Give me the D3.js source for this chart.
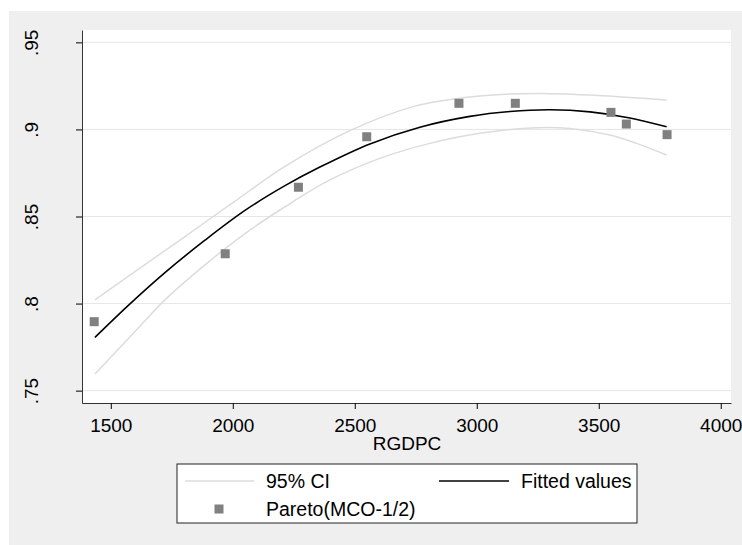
<!DOCTYPE html>
<html>
<head>
<meta charset="utf-8">
<script src="https://cdn.jsdelivr.net/npm/d3@7"></script>
<style>
  body { margin: 0; background: #fff; }
  svg text { font-family: "Liberation Sans", Arial, sans-serif; fill: #000; }
</style>
</head>
<body>
<script>
// scatter points (RGDPC, Pareto)
const pointX = [1432, 1969, 2269, 2549, 2927, 3158, 3550, 3613, 3780];
const pointY = [0.7896, 0.8286, 0.8668, 0.8958, 0.915, 0.915, 0.9098, 0.9031, 0.897];

// fitted values
const fitX = [1435, 1572, 1722, 1886, 2050, 2214, 2357, 2562, 2767, 2972, 3136, 3300, 3464, 3628, 3778];
const fitY = [0.7806, 0.7990, 0.8178, 0.8364, 0.8535, 0.8677, 0.8784, 0.8917, 0.9013, 0.9075, 0.9103, 0.9113, 0.9101, 0.9066, 0.9015];

// 95% CI bounds
const ciHiX = [1435, 1599, 1804, 2009, 2214, 2480, 2740, 3000, 3245, 3519, 3778];
const ciHiY = [0.8021, 0.8183, 0.8385, 0.8588, 0.8788, 0.8993, 0.9131, 0.9190, 0.9207, 0.9194, 0.9169];
const ciLoX = [1435, 1599, 1722, 1886, 2050, 2214, 2398, 2603, 2808, 3013, 3245, 3382, 3546, 3655, 3778];
const ciLoY = [0.7596, 0.7839, 0.8021, 0.8222, 0.8402, 0.8556, 0.8710, 0.8834, 0.8920, 0.8978, 0.9010, 0.9006, 0.8968, 0.8920, 0.8853];

const xTicks = [1500, 2000, 2500, 3000, 3500, 4000];
const yTicks = [0.75, 0.8, 0.85, 0.9, 0.95];
const yTickLabels = [".75", ".8", ".85", ".9", ".95"];

const W = 742, H = 545;
const svg = d3.select("body").append("svg").attr("width", W).attr("height", H);

// outer gray region
svg.append("rect").attr("x", 9).attr("y", 11).attr("width", W - 9).attr("height", H - 11).attr("fill", "#efefef");

const plot = { left: 82, right: 731, top: 30, bottom: 403 };
svg.append("rect")
  .attr("x", plot.left).attr("y", plot.top)
  .attr("width", plot.right - plot.left).attr("height", plot.bottom - plot.top)
  .attr("fill", "#fff");

const x = d3.scaleLinear().domain([1382, 4042]).range([plot.left, plot.right]);
const y = d3.scaleLinear().domain([0.7429, 0.9571]).range([plot.bottom, plot.top]);

// grid
svg.append("g").selectAll("line").data(yTicks).enter().append("line")
  .attr("x1", plot.left).attr("x2", plot.right)
  .attr("y1", d => y(d)).attr("y2", d => y(d))
  .attr("stroke", "#e6e6e6").attr("stroke-width", 1);

// axes
const yAxis = d3.axisLeft(y).tickValues(yTicks).tickSize(6).tickSizeOuter(0)
  .tickFormat((d, i) => yTickLabels[i]);
const gy = svg.append("g").attr("transform", "translate(" + plot.left + ",0)").call(yAxis);
gy.select(".domain").attr("stroke", "#333");
gy.selectAll(".tick line").attr("stroke", "#000");
// vertical labels, reading upward
gy.selectAll(".tick text")
  .attr("font-size", 19)
  .attr("text-anchor", "middle")
  .attr("transform", "rotate(-90)")
  .attr("x", 0)
  .attr("y", -44)
  .attr("dy", 0);

const xAxis = d3.axisBottom(x).tickValues(xTicks).tickSize(6).tickSizeOuter(0).tickFormat(d3.format("d"));
const gx = svg.append("g").attr("transform", "translate(0," + plot.bottom + ")").call(xAxis);
gx.select(".domain").attr("stroke", "#333");
gx.selectAll(".tick line").attr("stroke", "#000");
gx.selectAll(".tick text").attr("font-size", 19).attr("y", 29).attr("dy", 0);

svg.append("text").attr("x", 407).attr("y", 450).attr("text-anchor", "middle")
  .attr("font-size", 19).text("RGDPC");

// lines
const line = d3.line().x(d => x(d[0])).y(d => y(d[1])).curve(d3.curveCatmullRom);
const zip = (a, b) => a.map((v, i) => [v, b[i]]);

svg.append("path").datum(zip(ciHiX, ciHiY)).attr("d", line)
  .attr("fill", "none").attr("stroke", "#dcdcdc").attr("stroke-width", 1.5);
svg.append("path").datum(zip(ciLoX, ciLoY)).attr("d", line)
  .attr("fill", "none").attr("stroke", "#dcdcdc").attr("stroke-width", 1.5);
svg.append("path").datum(zip(fitX, fitY)).attr("d", line)
  .attr("fill", "none").attr("stroke", "#000").attr("stroke-width", 1.6);

// points
const sq = 9;
svg.append("g").selectAll("rect").data(zip(pointX, pointY)).enter().append("rect")
  .attr("x", d => x(d[0]) - sq / 2).attr("y", d => y(d[1]) - sq / 2)
  .attr("width", sq).attr("height", sq)
  .attr("fill", "#808080");

// legend
const lg = svg.append("g");
lg.append("rect").attr("x", 177).attr("y", 464).attr("width", 460).attr("height", 59)
  .attr("fill", "#fff").attr("stroke", "#222").attr("stroke-width", 1);
lg.append("line").attr("x1", 185).attr("x2", 254).attr("y1", 481).attr("y2", 481)
  .attr("stroke", "#dcdcdc").attr("stroke-width", 1.5);
lg.append("text").attr("x", 266).attr("y", 488).attr("font-size", 19.5).text("95% CI");
lg.append("line").attr("x1", 439).attr("x2", 509).attr("y1", 481).attr("y2", 481)
  .attr("stroke", "#000").attr("stroke-width", 1.6);
lg.append("text").attr("x", 521).attr("y", 488).attr("font-size", 19.5).text("Fitted values");
lg.append("rect").attr("x", 219 - sq / 2).attr("y", 509 - sq / 2).attr("width", sq).attr("height", sq)
  .attr("fill", "#808080");
lg.append("text").attr("x", 266).attr("y", 516).attr("font-size", 19.5).text("Pareto(MCO-1/2)");
</script>
</body>
</html>
